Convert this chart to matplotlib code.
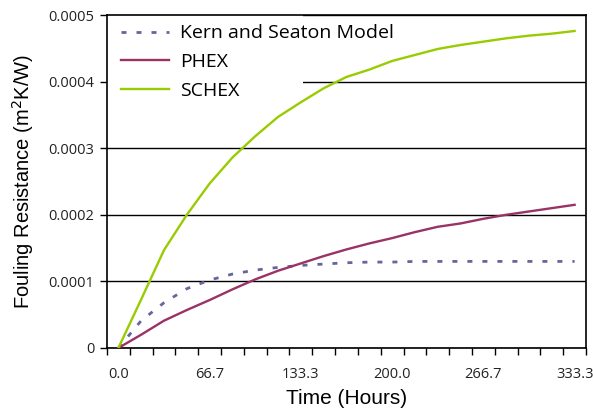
import numpy as np
import matplotlib
matplotlib.use('Agg')
import matplotlib.pyplot as plt
from matplotlib.patches import Rectangle
from matplotlib.ticker import FixedLocator, FuncFormatter

## 데이터 (카테고리 축: 16.7시간 간격)
time_h = [0.0, 16.7, 33.3, 50.0, 66.7, 83.3, 100.0, 116.7, 133.3, 150.0, 166.7,
          183.3, 200.0, 216.7, 233.3, 250.0, 266.7, 283.3, 300.0, 316.7, 333.3]
kern = [0.0, 0.000041, 0.000068, 0.000089, 0.000102, 0.000111, 0.000117, 0.000121,
        0.000124, 0.000126, 0.000128, 0.000129, 0.000129, 0.00013, 0.00013, 0.00013,
        0.00013, 0.00013, 0.00013, 0.00013, 0.00013]
phex = [0.0, 0.00002, 0.000041, 0.000057, 0.000072, 0.000088, 0.000103, 0.000116,
        0.000127, 0.000138, 0.000148, 0.000157, 0.000165, 0.000174, 0.000182, 0.000187,
        0.000194, 0.0002, 0.000205, 0.00021, 0.000215]
schex = [0.0, 0.000073, 0.000147, 0.0002, 0.000247, 0.000286, 0.000318, 0.000347,
         0.000369, 0.00039, 0.000407, 0.000418, 0.000431, 0.00044, 0.000449, 0.000455,
         0.00046, 0.000465, 0.000469, 0.000472, 0.000476]
label_every = 4

x = np.arange(len(time_h))

fig = plt.figure(figsize=(5.93, 4.17), dpi=100)
ax = fig.add_axes([0.1804, 0.1655, 0.8078, 0.7985])

ax.plot(x, kern, color='#66669C', lw=2.0, dashes=(1.8, 3.6), label='Kern and Seaton Model', zorder=3)
ax.plot(x, phex, color='#993366', lw=1.7, label='PHEX', zorder=3)
ax.plot(x, schex, color='#99CC00', lw=1.7, label='SCHEX', zorder=3)

ax.set_xlim(-0.5, len(time_h) - 0.5)
ax.set_ylim(0, 0.0005)

# y축
ax.set_yticks(np.arange(0, 0.00051, 0.0001))
ax.yaxis.set_major_formatter(FuncFormatter(lambda v, p: '0' if v == 0 else '%.4f' % v))
ax.grid(axis='y', color='black', lw=1.0, zorder=1)

# 범례 영역 흰 배경 (격자선 가림)
ax.add_patch(Rectangle((0, 0.76), 0.409, 0.24, transform=ax.transAxes,
                       facecolor='white', edgecolor='none', zorder=2))

# x축: 경계 눈금 + 가운데 라벨
ax.xaxis.set_minor_locator(FixedLocator(np.arange(-0.5, len(time_h), 1.0)))
ax.set_xticks(x[::label_every])
ax.set_xticklabels(['%.1f' % time_h[i] for i in x[::label_every]])
ax.tick_params(axis='x', which='major', length=0, pad=14)
ax.tick_params(axis='x', which='minor', length=5, width=1, direction='out')
ax.tick_params(axis='y', length=5, width=1, direction='out', pad=4)
for lab in ax.get_xticklabels() + ax.get_yticklabels():
    lab.set_fontfamily('Open Sans')
    lab.set_fontsize(10.5)
    lab.set_color('#222222')

for s in ax.spines.values():
    s.set_linewidth(1.2)

ax.set_xlabel('Time (Hours)', fontsize=15, family='Liberation Sans', labelpad=5)
ax.set_ylabel('Fouling Resistance (m$^2$K/W)', fontsize=14.5, family='Liberation Sans', labelpad=9)

leg = ax.legend(loc='upper left', bbox_to_anchor=(0.0125, 0.995), borderaxespad=0, frameon=False,
                prop={'family': 'Open Sans', 'size': 14}, handlelength=2.5,
                handletextpad=0.57, labelspacing=0.55, borderpad=0.4)
leg.set_zorder(4)

fig.savefig('out.png', dpi=100)
